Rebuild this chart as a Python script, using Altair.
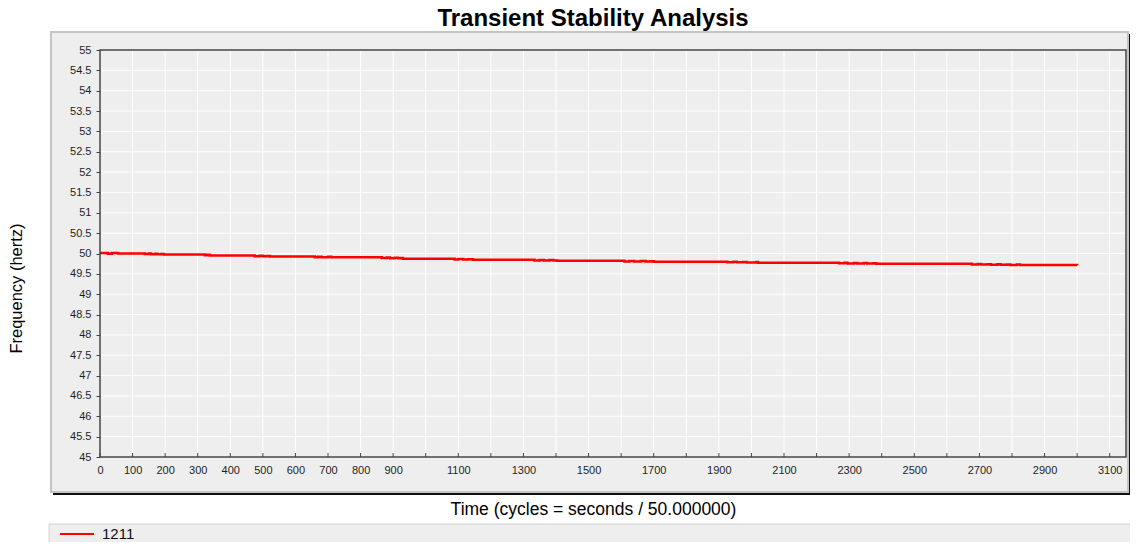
import altair as alt
import pandas as pd

FONT = "Liberation Sans"

# ---- data ----
SERIES = "1211"
TIME = [0, 24, 36, 55, 138, 150, 157, 169, 176, 188, 196, 322, 330, 337,
        475, 490, 500, 512, 521, 660, 670, 680, 700, 710,
        865, 880, 890, 905, 915, 925, 930,
        1089, 1100, 1115, 1130, 1145,
        1334, 1350, 1362, 1380, 1392, 1404,
        1610, 1625, 1640, 1660, 1675, 1690, 1700,
        1926, 1945, 1955, 1975, 1985, 2015, 2020,
        2269, 2285, 2295, 2315, 2325, 2345, 2355, 2375, 2383,
        2677, 2695, 2705, 2725, 2735, 2755, 2765, 2785, 2795, 2815, 2825, 2837,
        3000]
FREQ = [50.01, 49.995, 50.015, 50.00, 49.985, 50.0, 49.98, 49.995, 49.98, 49.99, 49.975, 49.96, 49.97, 49.95,
        49.935, 49.945, 49.93, 49.94, 49.926, 49.91, 49.92, 49.905, 49.918, 49.91,
        49.89, 49.9, 49.885, 49.895, 49.882, 49.89, 49.87,
        49.85, 49.862, 49.85, 49.86, 49.845,
        49.83, 49.84, 49.828, 49.838, 49.825, 49.82,
        49.805, 49.815, 49.803, 49.813, 49.803, 49.81, 49.8,
        49.785, 49.795, 49.782, 49.792, 49.78, 49.79, 49.775,
        49.76, 49.77, 49.757, 49.767, 49.755, 49.765, 49.752, 49.76, 49.747,
        49.73, 49.74, 49.727, 49.737, 49.725, 49.735, 49.722, 49.732, 49.72, 49.73, 49.718, 49.715,
        49.71]

X_TICKS = [0, 100, 200, 300, 400, 500, 600, 700, 800, 900, 1000, 1100, 1200, 1300,
           1400, 1500, 1600, 1700, 1800, 1900, 2000, 2100, 2200, 2300, 2400, 2500,
           2600, 2700, 2800, 2900, 3000, 3100]
Y_TICKS = [45, 45.5, 46, 46.5, 47, 47.5, 48, 48.5, 49, 49.5, 50, 50.5,
           51, 51.5, 52, 52.5, 53, 53.5, 54, 54.5, 55]
X_DOMAIN = [0, 3150]
Y_DOMAIN = [45, 55]

TITLE = "Transient Stability Analysis"
X_TITLE = "Time (cycles = seconds / 50.000000)"
Y_TITLE = "Frequency (hertz)"

W, H = 1026, 407

df = pd.DataFrame({"t": TIME, "f": FREQ, "series": [SERIES] * len(TIME)})
xt = pd.DataFrame({"t": X_TICKS})
yt = pd.DataFrame({"f": Y_TICKS})
one = alt.Data(values=[{"k": 0}])

x_scale = alt.Scale(domain=X_DOMAIN, nice=False, zero=False)
y_scale = alt.Scale(domain=Y_DOMAIN, nice=False, zero=False)

x_axis = alt.Axis(
    values=X_TICKS, format="d", grid=False, domain=False, ticks=False,
    labelExpr="(datum.value < 1000 || datum.value % 200 == 100) ? datum.label : ''",
    labelOverlap=False, labelFlush=False, labelPadding=7,
    labelFont=FONT, labelFontSize=11, labelColor="#1e1e1e",
    title=X_TITLE, titleFont=FONT, titleFontSize=17.5, titleFontWeight="normal",
    titleColor="#000000", titleX=493, titleY=52, titleAlign="center",
    titleBaseline="middle", zindex=1,
)
y_axis = alt.Axis(
    values=Y_TICKS, format="~g", grid=False, domain=False,
    tickSize=4, tickColor="#444444", labelPadding=5,
    labelOverlap=False, labelFlush=False,
    labelFont=FONT, labelFontSize=11, labelColor="#1e1e1e",
    title=Y_TITLE, titleFont=FONT, titleFontSize=16.5, titleFontWeight="normal",
    titleColor="#000000", titleX=-84, titleY=238, titleAngle=270,
    titleAlign="center", titleBaseline="middle", zindex=1,
)

shadow = alt.Chart(one).mark_rect(color="#111111").encode(
    x=alt.value(-47), x2=alt.value(1032), y=alt.value(-16), y2=alt.value(445))
panel = alt.Chart(one).mark_rect(fill="#eeeeee", stroke="#c4c4c4", strokeWidth=2).encode(
    x=alt.value(-49), x2=alt.value(1028), y=alt.value(-18), y2=alt.value(442))
legend_box = alt.Chart(one).mark_rect(fill="#eeeeee", stroke="#d4d4d4", strokeWidth=1).encode(
    x=alt.value(-51), x2=alt.value(1040), y=alt.value(474), y2=alt.value(510))

grid_x = alt.Chart(xt).mark_rule(color="white", strokeWidth=1).encode(
    x=alt.X("t:Q", scale=x_scale, axis=x_axis))
grid_y = alt.Chart(yt).mark_rule(color="white", strokeWidth=1).encode(
    y=alt.Y("f:Q", scale=y_scale, axis=y_axis))
x_ticks = alt.Chart(xt).mark_rule(color="#444444", strokeWidth=1).encode(
    x=alt.X("t:Q", scale=x_scale, axis=x_axis), y=alt.value(H - 4), y2=alt.value(H))

line = alt.Chart(df).mark_line(interpolate="step-after", strokeWidth=2.5).encode(
    x=alt.X("t:Q", scale=x_scale, axis=x_axis),
    y=alt.Y("f:Q", scale=y_scale, axis=y_axis),
    color=alt.Color(
        "series:N",
        scale=alt.Scale(domain=[SERIES], range=["#ff0000"]),
        legend=alt.Legend(
            orient="none", legendX=-41, legendY=466, title=None,
            symbolType="stroke", symbolSize=1156, symbolStrokeWidth=2,
            labelFont=FONT, labelFontSize=15, labelColor="#111111",
            labelOffset=7, padding=0,
        ),
    ),
)

frame = alt.Chart(one).mark_rect(fillOpacity=0, stroke="#444444", strokeWidth=1.5).encode(
    x=alt.value(0), x2=alt.value(W), y=alt.value(0), y2=alt.value(H))

chart = alt.layer(shadow, panel, legend_box, grid_x, grid_y, line, x_ticks, frame).properties(
    width=W, height=H,
    title=alt.TitleParams(TITLE, anchor="middle", dx=-20, dy=4, offset=4, font=FONT,
                          fontSize=24, fontWeight="bold", color="#000000"),
    autosize=alt.AutoSizeParams(type="none"),
    padding={"left": 92, "top": 42, "right": 4, "bottom": 85},
    background="white",
).configure_view(stroke="transparent")

chart.save("out.html", embed_options={"renderer": "svg", "actions": False})
